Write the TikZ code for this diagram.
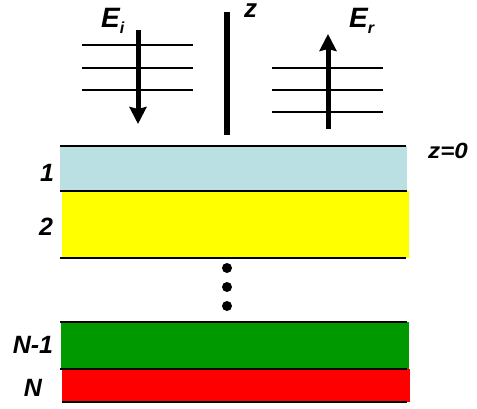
\documentclass[tikz,border=0pt]{standalone}
\usepackage{fontspec}
\setmainfont{Liberation Sans}
\usetikzlibrary{arrows.meta}
\definecolor{lay1}{RGB}{186,224,227}
\definecolor{lay2}{RGB}{255,255,0}
\definecolor{layg}{RGB}{0,153,0}
\definecolor{layr}{RGB}{255,0,0}
\tikzset{
  lbl/.style={font=\fontsize{25}{28}\selectfont\bfseries\itshape, inner sep=0pt},
  big/.style={font=\fontsize{28}{30}\selectfont\bfseries\itshape, inner sep=0pt},
  wave/.style={line width=2pt},
  bnd/.style={line width=2pt},
  fat/.style={line width=5pt, -{Stealth[length=17pt,width=17pt,inset=2pt]}},
  dotc/.style={circle, fill=black, inner sep=0pt, minimum size=10pt},
}
\newcommand{\subtx}[1]{\raisebox{-6pt}{\fontsize{16}{16}\selectfont #1}}
\begin{document}
\begin{tikzpicture}[x=1pt,y=-1pt]
\useasboundingbox (0,0) rectangle (477,408);
% layers
\fill[lay1] (60,146) rectangle (407,191);
\fill[lay2] (62,191) rectangle (409,258);
\fill[layg] (61,322) rectangle (409,369);
\fill[layr] (62,369) rectangle (410,402);
\draw[bnd] (60,146) -- (406,146);
\draw[bnd] (60,191) -- (407,191);
\draw[bnd] (60,258) -- (406,258);
\draw[bnd] (60,322) -- (407,322);
\draw[bnd] (60,369) -- (407,369);
\draw[bnd] (62,402) -- (407,402);
% labels
\node[lbl] (l1) at (47,173) {1};
\node[lbl] (l2) at (46,227) {2};
\node[lbl] (lN1) at (33,345) {N-1};
\node[lbl] (lN) at (33,388) {N};
\node[lbl, font=\fontsize{22}{24}\selectfont\bfseries\itshape, xscale=1.1] (z0) at (448,151) {z=0};
% dots
\node[dotc] (d1) at (227,268) {};
\node[dotc] (d2) at (227,287) {};
\node[dotc] (d3) at (227,306) {};
% z axis
\coordinate (zt) at (227,12);
\coordinate (zb) at (227,135);
\draw[line width=6pt] (zb) -- (zt);
\node[big, font=\fontsize{26}{28}\selectfont\bfseries\itshape, anchor=base west] (zl) at (244,17) {z};
% incident wave
\draw[wave] (82,45) -- (193,45);
\draw[wave] (82,68) -- (193,68);
\draw[wave] (82,90) -- (193,90);
\coordinate (ei1) at (138,30);
\coordinate (ei2) at (138,124);
\draw[fat] (ei1) -- (ei2);
\node[big, anchor=base west] (Ei) at (101,27) {E\subtx{i}};
% reflected wave
\draw[wave] (272,68) -- (383,68);
\draw[wave] (272,90) -- (383,90);
\draw[wave] (272,112) -- (383,112);
\coordinate (er1) at (328,129);
\coordinate (er2) at (328,34);
\draw[fat] (er1) -- (er2);
\node[big, anchor=base west] (Er) at (349,27) {E\subtx{r}};
\end{tikzpicture}
\end{document}
